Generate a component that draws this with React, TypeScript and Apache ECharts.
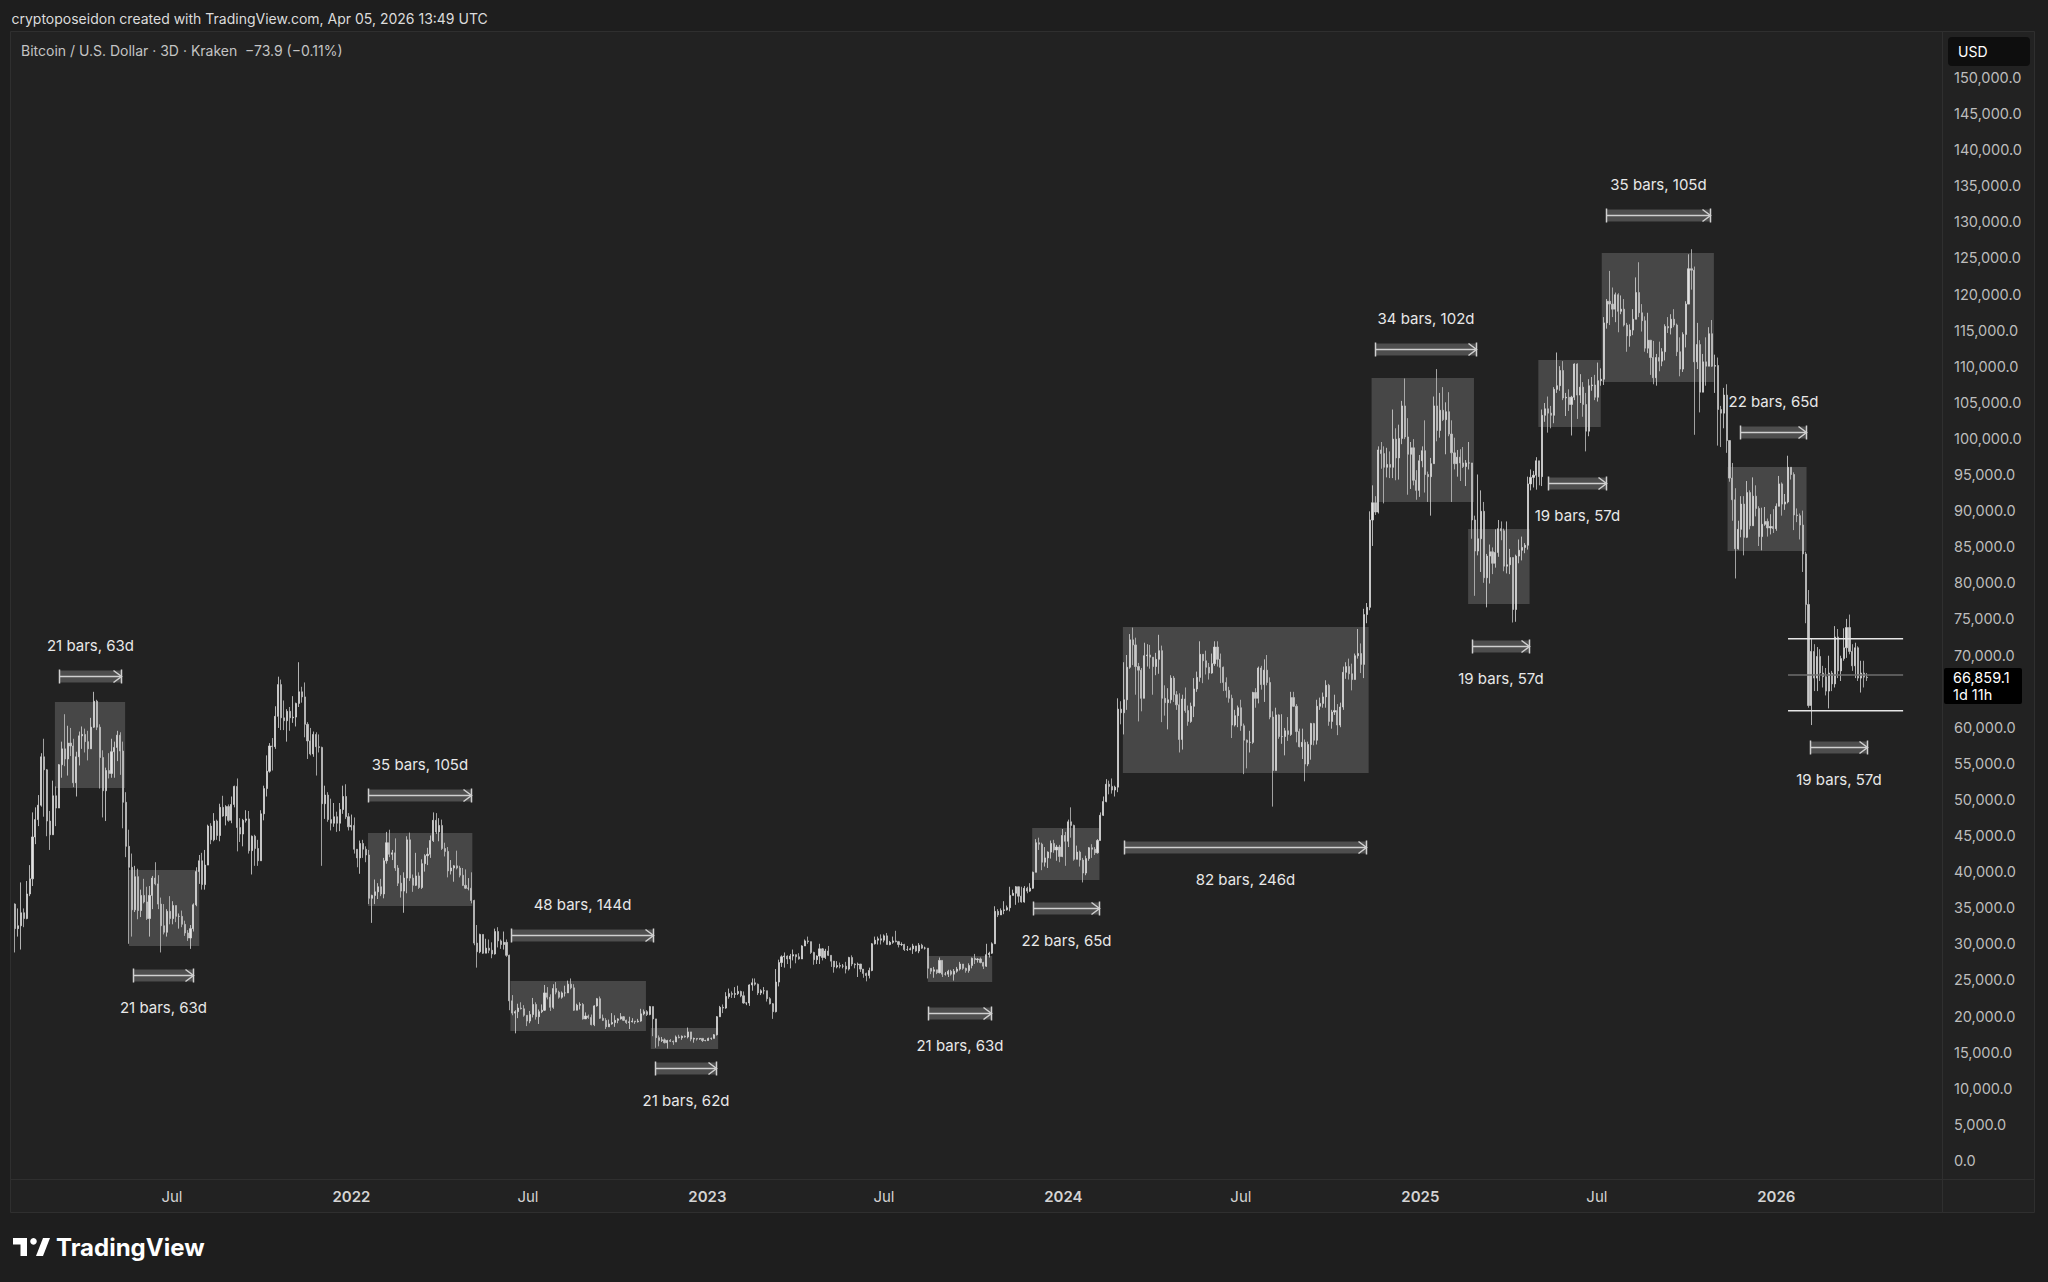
import React, { useEffect, useRef } from 'react';
import * as echarts from 'echarts';

// ---------- DATA (BTC/USD 3D candles, Kraken; values in thousands USD) ----------
// each entry: [close, high, low]; open = previous close
const FIRST_OPEN = 35.5;
const FIRST_CANDLE = '2021-01-21';
const STEP_DAYS = 3;

const candles2021: number[][] = [
  [32.1,35.6,28.8],[32.5,34.9,31.0],[34.3,38.5,29.2],[33.5,34.9,32.3],[36.9,38.7,33.4],[39.0,40.9,36.6],
  [44.8,48.2,38.0],[47.2,48.9,43.8],[49.2,50.6,46.3],[55.9,56.4,49.0],[54.1,58.4,47.6],[47.0,54.2,44.9],
  [45.1,48.4,43.0],[50.5,52.6,45.1],[48.8,51.8,46.3],[54.8,54.9,48.9],[57.0,58.0,53.0],[55.6,61.8,54.6],
  [57.8,60.2,53.3],[57.4,59.9,56.0],[52.3,58.4,51.7],[55.9,56.6,50.4],[58.8,59.4,54.7],[59.0,60.1,57.0],
  [58.0,59.8,56.5],[57.0,59.5,55.4],[60.0,61.3,57.0],[63.6,64.9,59.9],[60.0,63.8,59.6],[55.8,60.4,51.5],
  [51.2,56.8,47.5],[54.0,54.4,47.0],[53.6,56.4,52.9],[56.6,58.4,53.0],[57.2,58.0,53.0],[58.9,59.5,55.3],
  [56.7,59.3,53.4],[49.6,58.0,46.0],[43.5,51.0,42.0],[40.6,45.8,30.0],[34.7,42.5,31.0],[39.3,40.8,34.4],
  [34.6,40.4,33.4],[36.7,37.5,33.7],[35.8,39.0,35.6],[33.5,37.9,33.3],[36.7,38.0,31.0],[39.1,39.4,34.8],
  [38.3,41.3,38.1],[35.5,39.5,34.8],[32.5,36.4,28.8],[31.6,35.5,31.3],[34.5,34.8,31.0],[33.5,36.6,32.7],
  [35.3,35.9,32.7],[33.8,35.1,33.0],[33.8,34.2,32.1],[32.7,34.6,32.3],[31.5,33.2,31.1],[30.8,31.9,30.4],
  [32.1,32.6,29.3],[35.4,35.6,31.7],[40.0,40.6,35.2],[41.5,42.3,38.3],[38.2,42.6,37.5],[40.9,43.0,37.5],
  [46.3,46.5,42.8],[44.4,46.7,43.8],[47.0,48.1,44.2],[45.0,47.2,44.4],[48.9,49.4,44.2],[47.7,50.5,47.6],
  [49.0,49.2,46.4],[47.1,49.3,46.9],[49.3,50.4,46.7],[51.8,51.9,48.9],[46.1,52.9,42.8],[45.2,47.4,44.1],
  [47.1,47.3,43.5],[47.3,48.5,46.8],[42.9,48.4,42.5],[44.9,45.0,39.6],[43.2,45.1,40.8],[41.5,44.4,40.8],
  [48.0,48.5,41.5],[51.5,51.9,47.1],[53.9,56.1,50.4],[57.4,57.8,53.7],[57.3,58.5,54.0],[61.5,62.9,57.0],
  [65.9,67.0,59.9],[61.3,66.6,59.6],[60.9,63.7,59.6],[62.2,62.5,58.0],[61.3,62.8,59.5],[61.4,64.3,60.6],
  [63.3,63.4,60.1],[64.9,69.0,62.8],[64.2,65.6,63.4],[60.4,66.2,58.6],[58.1,60.7,55.6],[56.3,59.9,56.1],
  [59.0,59.4,55.9],[57.3,59.3,53.3],[57.2,59.0,56.5],[49.4,57.3,40.8],[50.6,51.9,47.3],[47.2,51.0,46.9],
  [46.7,50.1,45.7],[47.6,49.5,46.2],[46.7,48.3,45.5],[48.6,49.5,45.6],[50.4,51.9,48.0],[47.6,52.1,47.3],
  [46.2,48.1,45.7],
];

const candles2022: number[][] = [
  [46.4,47.9,45.7],[43.1,47.5,42.5],[41.9,43.1,40.6],[43.9,44.3,39.7],[43.1,44.4,41.9],[42.3,43.5,41.3],
  [36.3,43.0,35.5],[36.7,36.8,32.9],[37.2,38.9,35.5],[37.9,38.4,36.2],[36.9,39.0,36.6],[41.5,41.9,36.3],
  [44.0,45.5,41.1],[42.4,45.8,42.0],[42.6,43.0,41.6],[40.5,44.6,40.1],[38.4,40.9,38.0],[37.3,39.5,36.4],
  [39.1,39.9,34.3],[44.4,44.9,37.0],[39.1,45.4,38.7],[38.1,39.6,37.2],[39.4,42.6,38.0],[37.8,39.9,37.6],
  [41.1,41.7,37.6],[42.2,42.4,40.0],[42.4,43.3,40.9],[44.3,45.0,41.9],[47.1,48.2,44.1],[45.5,48.1,45.2],
  [46.4,47.4,44.2],[43.2,47.2,43.0],[42.8,44.0,42.1],[40.1,43.4,39.2],[40.5,41.6,39.6],[40.8,40.9,38.6],
  [40.5,42.9,40.3],[39.5,40.8,39.2],[38.1,40.5,38.0],[37.7,40.3,37.6],[37.7,39.1,37.4],[36.0,39.9,35.6],
  [30.1,36.1,29.8],[28.9,32.6,26.7],[31.3,31.4,28.7],[28.7,31.3,28.6],[29.4,30.7,28.7],[29.1,30.6,28.7],
  [28.6,30.2,28.0],[31.7,32.1,28.5],[30.4,32.3,29.5],[29.9,30.6,29.3],[30.2,31.7,29.2],[28.4,30.6,28.2],
  [22.1,28.5,20.8],[20.4,22.9,20.1],[20.6,20.8,17.6],[21.1,21.7,19.7],[21.0,21.9,20.9],[20.1,21.5,19.9],
  [19.3,20.1,18.6],[20.2,20.7,19.0],[21.6,22.5,19.8],[19.9,21.9,19.5],[20.6,20.9,18.9],[20.8,21.6,20.4],
  [23.2,24.3,20.7],[22.6,24.0,22.3],[21.2,23.0,20.7],[23.8,24.4,21.0],[23.3,24.7,23.0],[22.6,23.5,22.4],
  [23.2,23.4,22.4],[23.2,24.2,22.7],[24.4,24.9,23.9],[23.9,25.2,23.7],[20.8,24.4,20.7],[21.5,21.7,20.8],
  [21.6,21.9,20.9],[19.6,21.8,19.5],[20.0,20.5,19.6],[19.8,20.2,19.6],[18.8,20.2,18.7],[21.4,21.5,18.6],
  [22.4,22.5,21.3],[19.7,22.7,19.6],[19.4,20.2,19.3],[18.5,19.7,18.2],[18.9,19.5,18.6],[19.1,20.4,18.8],
  [19.4,20.1,18.5],[19.6,19.7,19.0],[19.9,20.4,19.5],[19.4,20.0,19.3],[19.1,19.5,18.9],[19.2,19.9,18.2],
  [19.3,19.7,19.1],[19.2,19.3,18.9],[19.3,19.6,19.1],[20.3,21.0,19.2],[20.6,20.9,20.1],[20.2,20.8,20.0],
  [21.3,21.4,20.1],[19.6,21.1,17.2],[17.0,18.5,15.6],[16.6,17.3,15.8],[16.7,17.1,16.4],[16.3,16.9,16.2],
  [16.6,16.7,15.5],[16.5,16.8,16.4],[16.4,16.6,16.0],[17.1,17.3,16.4],[17.0,17.4,16.9],[17.2,17.3,16.7],
  [17.1,17.3,17.0],[17.8,18.4,16.9],[16.8,17.8,16.5],[16.9,17.0,16.3],[16.8,16.9,16.6],[16.9,16.9,16.7],
  [16.6,16.9,16.4],[16.6,16.7,16.5],
];

const candles2023: number[][] = [
  [16.9,17.0,16.6],[16.9,17.0,16.7],[17.4,17.5,16.9],[19.9,20.0,17.3],[21.2,21.4,19.9],[21.1,21.6,20.4],
  [22.7,23.3,21.0],[23.1,23.8,22.4],[23.0,23.4,22.5],[23.1,24.0,22.5],[23.4,24.2,22.9],[22.8,23.5,22.6],
  [21.8,23.4,21.7],[21.8,21.9,21.5],[24.3,24.4,21.4],[24.6,25.2,23.5],[24.4,25.2,24.2],[23.2,24.5,22.9],
  [23.5,23.7,22.9],[23.5,24.0,23.0],[22.4,23.5,22.0],[21.7,22.6,21.6],[20.6,21.8,19.6],[24.7,26.5,20.5],
  [27.4,27.8,24.1],[28.2,28.4,26.8],[28.3,28.8,26.7],[27.9,28.4,27.2],[28.3,28.6,26.6],[28.5,29.2,27.7],
  [28.2,28.5,27.3],[27.9,28.7,27.8],[29.7,29.8,27.9],[30.4,30.6,29.7],[30.3,31.0,30.0],[28.8,30.3,28.6],
  [27.8,28.9,27.1],[28.3,28.4,27.2],[29.3,30.0,27.2],[28.1,29.4,27.7],[29.0,29.3,27.9],[28.4,29.7,28.3],
  [27.6,28.4,26.8],[26.8,27.6,26.0],[27.0,27.6,26.6],[26.9,27.4,26.6],[26.9,27.2,26.6],[26.5,27.5,25.9],
  [28.1,28.2,26.3],[27.2,28.4,26.9],[27.1,27.3,26.6],[27.2,27.4,25.4],[26.5,27.2,26.1],[25.9,26.5,25.3],
  [25.6,26.0,24.8],[26.3,26.7,25.2],[30.0,30.1,26.2],[30.5,31.0,29.9],[30.7,31.0,29.9],[30.5,31.3,29.9],
  [31.1,31.3,30.2],[29.9,31.5,29.9],[30.2,30.4,29.8],[30.4,31.0,30.0],[30.3,31.8,30.2],[29.9,30.4,29.5],
  [29.9,30.2,29.7],[29.2,30.0,29.0],[29.2,29.7,29.0],[29.3,29.5,29.1],[29.7,30.0,28.6],[29.0,29.7,28.9],
  [29.8,30.1,28.7],[29.4,30.0,29.3],[29.4,29.6,29.2],[26.6,29.4,25.2],[26.2,26.6,25.8],[26.4,26.8,25.3],
  [26.0,26.4,25.8],[27.7,28.1,25.9],[25.8,27.7,25.4],[25.8,26.1,25.6],[26.2,26.4,25.4],[25.8,26.4,25.6],
  [26.2,26.5,24.9],[26.5,26.8,26.0],[27.2,27.5,26.3],[26.6,27.2,26.4],[26.3,26.7,26.0],[27.0,27.3,26.0],
  [28.0,28.1,26.6],[27.8,28.6,27.2],[27.9,28.0,27.4],[27.4,28.1,27.3],[26.9,27.5,26.5],[28.5,30.0,26.8],
  [28.7,28.9,28.1],[30.0,30.2,28.6],[34.5,35.2,30.0],[34.0,34.8,33.7],[34.6,34.9,34.0],[34.7,35.9,34.1],
  [35.0,35.3,34.6],[36.7,37.9,34.5],[37.0,37.5,36.7],[37.9,38.0,35.4],[36.6,37.8,35.7],[35.8,37.9,35.7],
  [37.7,38.0,35.7],[37.3,37.9,37.0],[37.7,38.4,37.2],[39.9,40.0,37.6],[44.0,44.5,39.9],[43.8,44.7,43.0],
  [41.3,44.0,40.2],[41.9,43.4,40.7],[42.7,42.8,40.5],[43.9,44.3,41.8],[43.0,44.4,42.6],[43.4,43.7,41.5],
  [42.1,43.7,41.3],[45.0,45.9,42.0],
];

const candles2024: number[][] = [
  [44.2,45.5,40.8],[46.9,47.2,43.4],[46.4,48.9,44.7],[41.7,46.5,41.5],[42.7,43.6,41.7],[41.6,42.9,40.7],
  [39.8,41.9,38.5],[41.8,42.2,39.5],[43.3,43.4,41.5],[43.1,43.8,41.9],[42.6,43.4,42.3],[44.3,44.5,42.5],
  [47.8,48.2,44.3],[49.7,50.4,47.7],[52.1,52.8,49.6],[51.8,52.6,50.7],[51.3,52.9,50.8],[51.7,51.9,50.4],
  [62.5,64.0,51.0],[62.0,63.6,60.4],[63.8,69.0,59.0],[68.3,70.0,62.4],[72.1,72.9,68.1],[71.4,73.8,68.6],
  [68.4,72.4,64.5],[67.9,68.9,60.8],[64.0,68.2,62.2],[69.9,71.7,64.1],[70.0,71.5,68.4],[69.7,71.4,68.1],
  [68.4,69.7,64.5],[69.4,70.3,67.2],[70.6,72.8,67.4],[64.0,71.3,60.7],[63.4,65.8,61.6],[63.8,65.4,59.7],
  [66.8,67.2,63.3],[64.5,67.1,63.5],[63.1,65.0,62.4],[58.3,64.7,56.5],[63.9,64.5,56.9],[62.3,65.5,62.0],
  [60.8,63.0,60.2],[62.9,63.4,60.6],[65.3,66.8,61.4],[66.9,67.7,64.9],[70.1,71.9,66.3],[69.2,70.1,66.1],
  [68.3,70.6,67.3],[67.5,68.9,66.6],[68.8,70.2,67.4],[71.1,71.9,68.5],[69.4,71.9,68.4],[68.3,70.2,66.1],
  [66.2,68.4,65.0],[65.1,66.9,64.1],[64.0,65.6,63.4],[60.3,64.5,58.5],[61.6,62.4,60.1],[62.7,63.0,60.0],
  [60.2,63.8,59.5],[58.2,60.5,53.5],[57.9,58.3,54.3],[57.9,59.5,56.5],[64.8,64.9,57.7],[64.0,65.4,62.7],
  [68.2,68.4,63.3],[65.9,68.5,65.2],[67.9,69.4,63.5],[66.2,70.0,65.8],[61.4,66.9,61.1],[54.0,62.2,49.0],
  [61.7,62.7,54.5],[58.7,61.8,58.4],[58.7,61.8,57.7],[59.5,59.9,56.1],[59.0,61.4,58.1],[64.1,64.9,58.8],
  [62.9,64.9,62.8],[59.4,63.2,57.9],[57.3,59.8,57.2],[57.9,59.8,55.6],[54.9,58.3,52.5],[57.6,58.0,54.6],
  [60.5,60.6,55.5],[58.2,60.6,57.5],[62.9,63.8,57.6],[63.3,64.1,62.4],[64.2,64.8,62.7],[65.8,66.5,62.7],
  [60.8,66.0,60.2],[62.1,62.4,59.8],[62.3,64.5,61.7],[60.3,63.2,58.9],[62.8,63.4,60.0],[67.6,68.4,62.4],
  [68.4,69.0,66.7],[67.4,69.5,66.6],[66.6,68.8,65.1],[69.9,70.2,66.8],[70.2,73.6,69.5],[68.7,71.6,67.5],
  [75.6,76.4,66.8],[76.6,77.2,74.4],[88.7,89.9,76.2],[91.1,93.5,85.1],[89.8,92.0,89.4],[98.4,98.9,89.6],
  [97.9,99.5,95.8],[96.0,98.9,91.0],[96.4,98.7,94.6],[96.0,98.2,94.5],[99.9,104.0,94.5],[97.3,101.4,94.2],
  [100.0,101.9,94.3],[104.5,105.2,99.2],[100.2,108.3,99.9],[97.8,102.8,92.2],[98.7,99.5,93.0],[94.2,99.9,93.5],
  [92.8,95.6,91.5],[96.9,97.7,91.9],
];

const candles2025: number[][] = [
  [98.3,98.9,96.0],[95.0,102.5,92.5],[94.7,95.4,91.2],[96.5,97.3,89.3],[104.5,105.8,96.5],[101.1,109.6,99.6],
  [103.9,106.3,100.1],[102.6,107.1,102.4],[103.7,105.0,97.8],[100.6,106.4,100.3],[98.0,102.5,91.2],[96.5,100.1,95.7],
  [97.4,98.4,94.7],[96.6,98.5,94.1],[96.1,98.8,95.9],[96.6,97.0,93.4],[96.6,99.5,95.7],[88.7,96.5,86.1],
  [84.4,89.3,78.2],[86.1,95.0,83.8],[89.9,92.8,81.5],[80.7,91.2,80.0],[83.7,84.0,76.6],[84.3,85.3,79.9],
  [82.7,84.9,81.2],[84.2,87.4,82.1],[87.5,88.7,83.6],[87.2,88.5,85.9],[82.3,87.5,81.6],[82.5,88.5,81.3],
  [83.5,84.7,81.2],[76.3,83.5,74.5],[83.7,83.9,74.6],[84.5,86.0,82.7],[84.9,86.4,83.1],[85.2,85.5,84.1],
  [93.7,94.7,84.6],[94.6,95.7,92.8],[94.9,95.5,93.2],[96.9,97.4,92.9],[94.7,96.8,93.5],[103.2,104.0,93.4],
  [104.1,104.9,102.3],[103.5,105.8,100.8],[103.2,104.5,101.4],[106.8,107.1,102.1],[107.3,111.9,106.3],[109.4,110.0,106.6],
  [105.6,110.7,105.3],[105.7,106.3,103.1],[104.7,106.8,103.8],[105.7,105.9,100.4],[110.3,110.4,105.3],[106.0,110.4,102.7],
  [107.1,108.9,104.9],[104.7,107.8,103.0],[101.0,106.3,98.2],[107.3,108.2,100.3],[107.4,108.5,106.6],[105.7,108.8,105.3],
  [108.0,110.5,105.1],[108.2,109.7,107.3],[116.0,116.8,107.4],[119.0,119.3,115.2],[118.6,123.2,115.7],[117.9,120.9,116.8],
  [119.9,120.2,116.1],[117.6,120.1,114.7],[117.9,119.8,117.2],[115.7,119.3,115.5],[114.2,116.0,112.0],[115.0,115.8,112.7],
  [116.5,117.9,114.3],[120.2,122.3,118.0],[117.4,124.4,116.8],[116.3,118.6,114.8],[112.5,116.9,112.0],[113.6,117.4,111.8],
  [111.2,113.6,108.8],[108.4,113.5,107.5],[111.2,111.7,107.3],[110.7,113.4,109.3],[112.0,112.5,110.0],[115.5,115.8,110.8],
  [115.3,116.8,114.6],[116.5,117.2,114.4],[115.7,117.9,115.4],[112.0,115.9,111.4],[109.6,114.0,108.6],[114.4,114.7,109.2],
  [118.6,119.0,112.6],[123.5,125.5,118.6],[123.3,126.2,120.6],[110.6,123.8,100.5],[113.0,116.0,109.6],[106.4,113.6,103.6],
  [110.6,111.7,106.9],[110.0,114.0,107.3],[114.5,115.4,110.2],[110.0,116.4,109.9],[110.1,111.6,106.3],[104.0,111.2,99.0],
  [103.5,104.5,98.8],[106.0,107.0,101.4],[99.7,107.5,98.0],[94.5,99.0,94.0],[91.5,96.6,88.6],[84.7,93.1,80.6],
  [87.4,88.6,84.6],[90.9,92.0,86.3],[86.3,92.0,83.8],[92.5,94.1,86.2],[87.9,92.8,87.4],[92.0,94.6,89.5],
  [90.3,93.5,89.2],[86.4,90.6,85.1],[88.1,90.4,84.5],[88.5,90.5,87.9],[87.6,88.9,86.4],[87.8,89.5,86.7],
  [87.5,90.2,86.9],
];

const candles2026: number[][] = [
  [90.6,91.0,87.2],[93.7,94.8,90.6],[90.9,93.9,89.3],[91.2,92.3,90.1],[96.0,97.6,91.0],[95.0,95.9,94.3],
  [89.4,95.3,87.3],[89.3,90.3,88.4],[88.0,89.6,86.0],[84.0,90.0,81.5],[77.0,84.3,74.4],[63.0,79.0,62.7],
  [70.5,72.2,60.3],[66.8,71.5,65.0],[69.8,71.1,65.0],[67.5,70.8,66.4],[67.0,68.5,65.5],[65.0,68.2,64.4],
  [67.5,69.9,62.6],[66.0,67.8,65.0],[72.5,74.0,65.5],[67.8,73.6,66.8],[69.5,69.9,66.4],[71.0,73.7,69.2],
  [73.8,75.0,69.6],[70.5,75.6,70.1],[68.5,71.5,67.8],[71.0,71.7,66.8],[66.8,71.2,66.4],[67.5,69.2,64.8],
  [66.933,69.2,65.5],[66.859,67.5,66.4],
];

// grey consolidation boxes: [start date, end date, low (k), high (k)]
const boxes: [string, string, number, number][] = [
  ['2021-03-03', '2021-05-14', 51.58, 63.49],
  ['2021-05-18', '2021-07-29', 29.70, 40.22],
  ['2022-01-18', '2022-05-05', 35.24, 45.35],
  ['2022-06-13', '2022-10-30', 17.92, 24.85],
  ['2022-11-04', '2023-01-12', 15.43, 18.34],
  ['2023-08-15', '2023-10-20', 24.71, 28.31],
  ['2023-11-30', '2024-02-07', 38.84, 46.04],
  ['2024-03-02', '2024-11-09', 53.66, 73.88],
  ['2024-11-12', '2025-02-25', 91.19, 108.37],
  ['2025-02-19', '2025-04-23', 77.06, 87.45],
  ['2025-05-02', '2025-07-05', 101.58, 110.86],
  ['2025-07-06', '2025-10-29', 107.81, 125.68],
  ['2025-11-12', '2026-02-01', 84.40, 96.04],
];

// date-range measurements: [start, end, price level (k), label, label side]
const ranges: [string, string, number, string, 'above' | 'below'][] = [
  ['2021-03-07', '2021-05-10', 67.11, '21 bars, 63d', 'above'],
  ['2021-05-22', '2021-07-23', 25.68, '21 bars, 63d', 'below'],
  ['2022-01-18', '2022-05-04', 50.61, '35 bars, 105d', 'above'],
  ['2022-06-14', '2022-11-06', 31.22, '48 bars, 144d', 'above'],
  ['2022-11-08', '2023-01-10', 12.80, '21 bars, 62d', 'below'],
  ['2023-08-15', '2023-10-19', 20.42, '21 bars, 63d', 'below'],
  ['2023-12-01', '2024-02-07', 34.96, '22 bars, 65d', 'below'],
  ['2024-03-03', '2024-11-06', 43.41, '82 bars, 246d', 'below'],
  ['2024-11-16', '2025-02-27', 112.38, '34 bars, 102d', 'above'],
  ['2025-02-23', '2025-04-22', 71.25, '19 bars, 57d', 'below'],
  ['2025-05-12', '2025-07-10', 93.82, '19 bars, 57d', 'below'],
  ['2025-07-10', '2025-10-25', 130.94, '35 bars, 105d', 'above'],
  ['2025-11-25', '2026-01-31', 100.89, '22 bars, 65d', 'above'],
  ['2026-02-05', '2026-04-04', 57.26, '19 bars, 57d', 'below'],
];

// horizontal range lines at the right: [start, end, price (k), kind]
const levels: [string, string, number, string][] = [
  ['2026-01-13', '2026-05-11', 72.26, 'edge'],
  ['2026-01-13', '2026-05-11', 67.23, 'mid'],
  ['2026-01-13', '2026-05-11', 62.29, 'edge'],
];

const xTickDates = ['2021-07-01', '2022-01-01', '2022-07-01', '2023-01-01', '2023-07-01', '2024-01-01', '2024-07-01', '2025-01-01', '2025-07-01', '2026-01-01'];
const xTickLabels = ['Jul', '2022', 'Jul', '2023', 'Jul', '2024', 'Jul', '2025', 'Jul', '2026'];
// 65,000 is hidden behind the last-price tag in the reference
const yTicks = [0, 5000, 10000, 15000, 20000, 25000, 30000, 35000, 40000, 45000, 50000, 55000, 60000, 70000, 75000,
  80000, 85000, 90000, 95000, 100000, 105000, 110000, 115000, 120000, 125000, 130000, 135000, 140000, 145000, 150000];

const X_MIN = '2021-01-18';
const X_MAX = '2026-06-19T21:00:00Z';
const Y_MIN = -2576;
const Y_MAX = 156427;

const HEADER = 'cryptoposeidon created with TradingView.com, Apr 05, 2026 13:49 UTC';
const TITLE = 'Bitcoin / U.S. Dollar · 3D · Kraken  \u221273.9 (\u22120.11%)';
const LAST_PRICE = '66,859.1';
const COUNTDOWN = '1d 11h';

const FONT = 'Inter, "Noto Sans", sans-serif';

function buildCandles() {
  const all = [...candles2021, ...candles2022, ...candles2023, ...candles2024, ...candles2025, ...candles2026];
  const start = Date.parse(FIRST_CANDLE);
  const day = 86400000;
  let prev = FIRST_OPEN;
  return all.map(([c, h, l], i) => {
    const o = prev;
    prev = c;
    return [start + i * STEP_DAYS * day, o * 1000, c * 1000, Math.min(l, o, c) * 1000, Math.max(h, o, c) * 1000];
  });
}

export default function App() {
  const ref = useRef<HTMLDivElement>(null);

  useEffect(() => {
    document.body.style.margin = '0';
    document.body.style.background = '#1e1e1e';
    if (!ref.current) return;
    const chart = echarts.init(ref.current, undefined, { renderer: 'svg' });

    const xTickValues = xTickDates.map((d) => Date.parse(d));
    const candleData = buildCandles();

    const option: any = {
      animation: false,
      backgroundColor: 'transparent',
      grid: { left: 12, right: 106, top: 31, bottom: 103, containLabel: false },
      xAxis: {
        type: 'value',
        min: Date.parse(X_MIN),
        max: Date.parse(X_MAX),
        axisLine: { show: false },
        axisTick: { show: false },
        splitLine: { show: false },
        axisLabel: {
          customValues: xTickValues,
          margin: 10,
          hideOverlap: false,
          formatter: (v: number) => {
            let best = 0;
            for (let i = 1; i < xTickValues.length; i++) {
              if (Math.abs(xTickValues[i] - v) < Math.abs(xTickValues[best] - v)) best = i;
            }
            const t = xTickLabels[best];
            return /^\d{4}$/.test(t) ? `{b|${t}}` : `{n|${t}}`;
          },
          rich: {
            b: { fontFamily: FONT, fontSize: 15, fontWeight: 600, color: '#d4d4d4' },
            n: { fontFamily: FONT, fontSize: 15, color: '#d4d4d4' },
          },
        },
      },
      yAxis: {
        type: 'value',
        position: 'right',
        min: Y_MIN,
        max: Y_MAX,
        axisLine: { show: false },
        axisTick: { show: false },
        splitLine: { show: false },
        axisLabel: {
          customValues: yTicks,
          margin: 12,
          align: 'left',
          fontFamily: FONT,
          fontSize: 14.5,
          color: '#bdbdbd',
          formatter: (v: number) => v.toLocaleString('en-US', { minimumFractionDigits: 1, maximumFractionDigits: 1 }),
        },
      },
      series: [
        {
          type: 'custom',
          name: 'boxes',
          z: 1,
          silent: true,
          encode: { x: [0, 1], y: [2, 3] },
          data: boxes.map((b) => [Date.parse(b[0]), Date.parse(b[1]), b[2] * 1000, b[3] * 1000]),
          renderItem: (params: any, api: any) => {
            const p1 = api.coord([api.value(0), api.value(3)]);
            const p2 = api.coord([api.value(1), api.value(2)]);
            return {
              type: 'rect',
              shape: { x: p1[0], y: p1[1], width: p2[0] - p1[0], height: p2[1] - p1[1] },
              style: { fill: 'rgba(255,255,255,0.17)' },
            };
          },
        },
        {
          type: 'candlestick',
          name: 'BTCUSD',
          z: 2,
          large: false,
          barWidth: 1.6,
          encode: { x: 0, y: [1, 2, 3, 4] },
          data: candleData,
          itemStyle: {
            color: '#e2e2e2',
            color0: '#c9c9c9',
            borderColor: '#d8d8d8',
            borderColor0: '#c2c2c2',
            borderWidth: 0.8,
          },
        },
        {
          type: 'custom',
          name: 'ranges',
          z: 3,
          silent: true,
          encode: { x: [0, 1], y: 2 },
          data: ranges.map((r) => [Date.parse(r[0]), Date.parse(r[1]), r[2] * 1000]),
          renderItem: (params: any, api: any) => {
            const r = ranges[params.dataIndex];
            const a = api.coord([api.value(0), api.value(2)]);
            const b = api.coord([api.value(1), api.value(2)]);
            const x1 = Math.round(a[0]) + 0.5;
            const x2 = Math.round(b[0]) + 0.5;
            const y = Math.round(a[1]) + 0.5;
            const stroke = '#d0d0d0';
            return {
              type: 'group',
              children: [
                { type: 'rect', shape: { x: x1, y: y - 6, width: x2 - x1, height: 12 }, style: { fill: 'rgba(255,255,255,0.2)' } },
                { type: 'line', shape: { x1, y1: y, x2: x2 - 1, y2: y }, style: { stroke, lineWidth: 1.5 } },
                { type: 'line', shape: { x1, y1: y - 7, x2: x1, y2: y + 7 }, style: { stroke, lineWidth: 1.5 } },
                { type: 'line', shape: { x1: x2, y1: y - 7, x2, y2: y + 7 }, style: { stroke, lineWidth: 1.5 } },
                { type: 'polyline', shape: { points: [[x2 - 8, y - 6], [x2, y], [x2 - 8, y + 6]] }, style: { stroke, lineWidth: 1.5, fill: 'none' } },
                {
                  type: 'text',
                  x: (x1 + x2) / 2,
                  y: y + (r[4] === 'above' ? -31 : 32),
                  style: { text: r[3], fill: '#e8e8e8', font: `15px ${FONT}`, align: 'center', verticalAlign: 'middle' },
                },
              ],
            };
          },
        },
        {
          type: 'custom',
          name: 'levels',
          z: 3,
          silent: true,
          encode: { x: [0, 1], y: 2 },
          data: levels.map((l) => [Date.parse(l[0]), Date.parse(l[1]), l[2] * 1000]),
          renderItem: (params: any, api: any) => {
            const l = levels[params.dataIndex];
            const a = api.coord([api.value(0), api.value(2)]);
            const b = api.coord([api.value(1), api.value(2)]);
            return {
              type: 'line',
              shape: { x1: a[0], y1: a[1], x2: b[0], y2: b[1] },
              style: { stroke: l[3] === 'mid' ? '#6e6e6e' : '#e6e6e6', lineWidth: 1.5 },
            };
          },
        },
      ],
      graphic: [
        { type: 'rect', z: -10, shape: { x: 10.5, y: 31.5, width: 2024, height: 1181 }, style: { fill: '#222222', stroke: '#2f2f2f', lineWidth: 1 } },
        { type: 'line', z: -9, shape: { x1: 1942.5, y1: 31.5, x2: 1942.5, y2: 1212.5 }, style: { stroke: '#2f2f2f', lineWidth: 1 } },
        { type: 'line', z: -9, shape: { x1: 10.5, y1: 1179.5, x2: 2034.5, y2: 1179.5 }, style: { stroke: '#2f2f2f', lineWidth: 1 } },
        { type: 'text', z: 100, x: 11.5, y: 18.5, style: { text: HEADER, fill: '#dcdcdc', font: `14px ${FONT}`, verticalAlign: 'middle' } },
        { type: 'text', z: 100, x: 21, y: 50, style: { text: TITLE, fill: '#c4c4c4', font: `14px ${FONT}`, verticalAlign: 'middle' } },
        { type: 'rect', z: 100, shape: { x: 1948, y: 37, width: 82, height: 29, r: 4 }, style: { fill: '#0e0e0e' } },
        { type: 'text', z: 101, x: 1958, y: 51.5, style: { text: 'USD', fill: '#ffffff', font: `14px ${FONT}`, verticalAlign: 'middle' } },
        { type: 'rect', z: 100, shape: { x: 1944, y: 668, width: 78, height: 36, r: 2 }, style: { fill: '#000000' } },
        { type: 'text', z: 101, x: 1953, y: 677.5, style: { text: LAST_PRICE, fill: '#ffffff', font: `14.5px ${FONT}`, verticalAlign: 'middle' } },
        { type: 'text', z: 101, x: 1953, y: 694, style: { text: COUNTDOWN, fill: '#ffffff', font: `14.5px ${FONT}`, verticalAlign: 'middle' } },
        {
          type: 'group', z: 100, x: 13, y: 1238,
          children: [
            { type: 'rect', shape: { x: 0, y: 0, width: 14, height: 6.5 }, style: { fill: '#ffffff' } },
            { type: 'rect', shape: { x: 7.5, y: 0, width: 6.5, height: 18 }, style: { fill: '#ffffff' } },
            { type: 'circle', shape: { cx: 20.5, cy: 3.3, r: 3.3 }, style: { fill: '#ffffff' } },
            { type: 'polygon', shape: { points: [[23, 18], [30, 0], [37, 0], [30, 18]] }, style: { fill: '#ffffff' } },
          ],
        },
        { type: 'text', z: 100, x: 56, y: 1247, style: { text: 'TradingView', fill: '#ffffff', font: `bold 24px ${FONT}`, verticalAlign: 'middle' } },
      ],
    };

    chart.setOption(option);
    return () => {
      chart.dispose();
    };
  }, []);

  return (
    <div
      ref={ref}
      style={{ position: 'absolute', left: 0, top: 0, width: 2048, height: 1282, background: '#1e1e1e' }}
    />
  );
}
